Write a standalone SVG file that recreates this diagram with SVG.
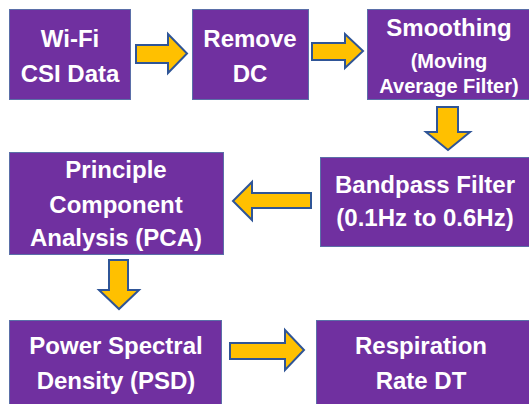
<svg xmlns="http://www.w3.org/2000/svg" width="529" height="404" viewBox="0 0 529 404">
<style>
.box{fill:#7030A0;stroke:#5B6FA8;stroke-width:1}
.t{fill:#fff;font-family:"Liberation Sans",Arial,sans-serif;font-weight:bold;font-size:24px;text-anchor:middle}
.s{font-size:20px}
.arr{fill:#FFC000;stroke:#2F5597;stroke-width:2;stroke-linejoin:miter}
</style>
<rect width="529" height="404" fill="#fff"/>
<g id="n1"><rect class="box" x="9.5" y="9.5" width="121" height="90"/>
<text class="t" x="70" y="47">Wi-Fi</text><text class="t" x="70" y="82">CSI Data</text></g>
<g id="n2"><rect class="box" x="192.5" y="9.5" width="116" height="90"/>
<text class="t" x="250" y="47">Remove</text><text class="t" x="250" y="82">DC</text></g>
<g id="n3"><rect class="box" x="367.5" y="9.5" width="166" height="90"/>
<text class="t" x="449" y="36">Smoothing</text><text class="t s" x="449" y="68">(Moving</text><text class="t s" x="449" y="93">Average Filter)</text></g>
<g id="n4"><rect class="box" x="320.5" y="157.5" width="212" height="89"/>
<text class="t" x="425" y="193">Bandpass Filter</text><text class="t" x="425" y="226">(0.1Hz to 0.6Hz)</text></g>
<g id="n5"><rect class="box" x="9.5" y="152.5" width="214" height="102"/>
<text class="t" x="116" y="178">Principle</text><text class="t" x="116" y="213">Component</text><text class="t" x="116" y="246">Analysis (PCA)</text></g>
<g id="n6"><rect class="box" x="9.5" y="320.5" width="212" height="90"/>
<text class="t" x="116" y="354">Power Spectral</text><text class="t" x="116" y="389">Density (PSD)</text></g>
<g id="n7"><rect class="box" x="316.5" y="320.5" width="216" height="90"/>
<text class="t" x="421" y="354">Respiration</text><text class="t" x="421" y="389">Rate DT</text></g>
<g id="connectors">
<polygon class="arr" points="136,45 168,45 168,34 187,53.5 168,73 168,63 136,63"/>
<polygon class="arr" points="312,43 345,43 345,34 363,51 345,68 345,60 312,60"/>
<polygon class="arr" points="437,107 458,107 458,132 470,132 448,150 426,132 437,132"/>
<polygon class="arr" points="311,193 252,193 252,182 233,201 252,220 252,208 311,208"/>
<polygon class="arr" points="109,260 128,260 128,290 139,290 119,309 99,290 109,290"/>
<polygon class="arr" points="230,343 285,343 285,330 304,350 285,370 285,359 230,359"/>
</g>
</svg>
